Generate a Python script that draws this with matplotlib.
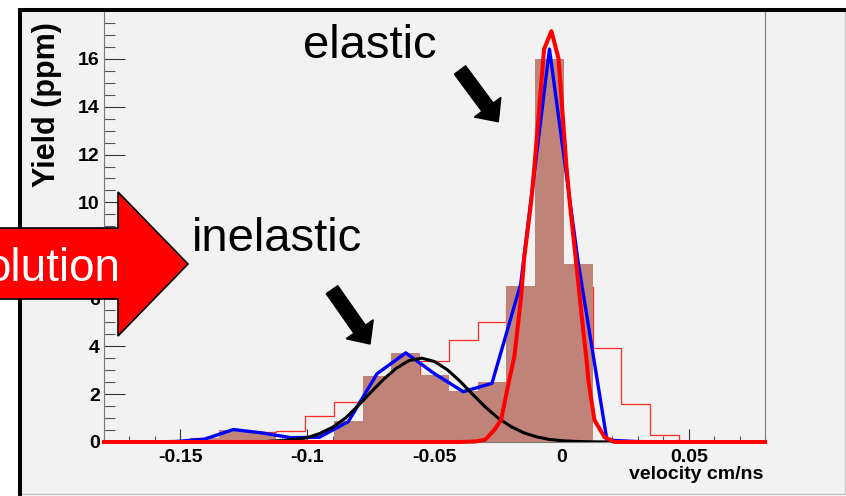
import numpy as np
import matplotlib
matplotlib.use('Agg')
import matplotlib.pyplot as plt
from matplotlib.patches import Rectangle, Polygon, FancyArrow
from matplotlib.lines import Line2D
from matplotlib.ticker import MultipleLocator
from matplotlib.transforms import IdentityTransform

plt.rcParams['font.family'] = ['Liberation Sans', 'DejaVu Sans']

# histogram binning (23 bins over the axis range)
bin_lo, bin_hi, n_bins = -0.18, 0.08, 23

# filled (brown) histogram
yield_bins = [0, 0, 0.02, 0.15, 0.5, 0.36, 0.12, 0.06, 0.89, 2.76, 3.70, 2.80,
              2.12, 2.52, 6.5, 16.0, 7.43, 0, 0, 0, 0, 0, 0]
# thin red step histogram
raw_bins = [0, 0, 0.04, 0.18, 0.38, 0.40, 0.46, 1.08, 1.69, 2.2, 2.8, 3.4,
            4.27, 5.0, 5.8, 6.2, 6.47, 3.93, 1.59, 0.29, 0, 0, 0]
# blue line, one value per bin centre
blue_line = [0, 0, 0.02, 0.12, 0.52, 0.38, 0.18, 0.2, 0.85, 2.85, 3.72, 2.85,
             2.1, 2.45, 6.6, 16.4, 7.5, 0.08, 0.02, 0, 0, 0, 0]

# black curve (inelastic)
inel_x = [-0.115, -0.11, -0.105, -0.1, -0.095, -0.09, -0.085, -0.08, -0.075,
          -0.07, -0.065, -0.06, -0.055, -0.05, -0.045, -0.04, -0.035, -0.03,
          -0.025, -0.02, -0.015, -0.01, -0.005, 0.0, 0.005, 0.01, 0.015, 0.02]
inel_y = [0.03, 0.06, 0.11, 0.18, 0.36, 0.62, 1.0, 1.52, 2.08, 2.62, 3.08, 3.40,
          3.50, 3.36, 3.02, 2.54, 1.99, 1.46, 1.00, 0.65, 0.39, 0.22, 0.11,
          0.056, 0.026, 0.011, 0.005, 0.002]

# thick red curve (elastic)
el_x = [-0.18, -0.04, -0.034, -0.030, -0.0265, -0.0238, -0.0206, -0.0186,
        -0.0159, -0.0147, -0.0119, -0.0107, -0.0069, -0.0040, -0.0012, 0.0019,
        0.0031, 0.0066, 0.0086, 0.0098, 0.0105, 0.0129, 0.0169, 0.0209, 0.08]
el_y = [0, 0, 0.02, 0.1, 0.5, 0.92, 2.6, 3.55, 6.1, 7.7, 10.1, 11.5, 16.4,
        17.15, 16.0, 11.5, 10.1, 6.6, 4.55, 3.43, 2.6, 0.92, 0.2, 0, 0]

xticks = [-0.15, -0.1, -0.05, 0, 0.05]
xtick_labels = ['-0.15', '-0.1', '-0.05', '0', '0.05']
yticks = [0, 2, 4, 6, 8, 10, 12, 14, 16]
ytick_labels = ['0', '2', '4', '6', '8', '10', '12', '14', '16']

W, H = 846, 496
def fx(p):
    return p / W
def fy(p):
    return 1 - p / H

bg = '#f2f2f2'
fig = plt.figure(figsize=(W / 100, H / 100), dpi=100)
fig.patch.set_facecolor('white')

# pad background + frame
fig.add_artist(Rectangle((fx(20), fy(494)), fx(845) - fx(20), fy(9.5) - fy(494),
                         transform=fig.transFigure, facecolor=bg,
                         edgecolor='#c4c4c4', lw=1, zorder=-1))
fig.add_artist(Line2D([fx(20), fx(20), fx(846)], [fy(497), fy(9.5), fy(9.5)],
                      transform=fig.transFigure, color='black', lw=2.9,
                      solid_joinstyle='miter', zorder=2))

ax = fig.add_axes([fx(104), fy(442), fx(765) - fx(104), fy(12) - fy(442)])
ax.set_facecolor(bg)

edges = np.linspace(bin_lo, bin_hi, n_bins + 1)
centers = 0.5 * (edges[:-1] + edges[1:])

ax.stairs(raw_bins, edges, color='#ff2a2a', lw=0.9, zorder=2)
ax.stairs(yield_bins, edges, fill=True, color='#c0837a', lw=0, zorder=3)
ax.plot(centers, blue_line, color='#0000ff', lw=2.4, zorder=4)
ax.plot(inel_x, inel_y, color='black', lw=2.2, zorder=5)
ax.plot(el_x, el_y, color='#ff0000', lw=2.9, zorder=6, clip_on=False)

ax.set_xlim(bin_lo, bin_hi)
ax.set_ylim(0, 17.95)

ax.set_xticks(xticks)
ax.set_xticklabels(xtick_labels)
ax.set_yticks(yticks)
ax.set_yticklabels(ytick_labels)
ax.xaxis.set_minor_locator(MultipleLocator(0.01))
ax.yaxis.set_minor_locator(MultipleLocator(0.5))

ax.tick_params(axis='x', which='major', direction='in', length=9.5, width=0.8,
               color='#333333', pad=5, labelsize=14)
ax.tick_params(axis='x', which='minor', direction='in', length=4.6, width=0.8,
               color='#555555')
ax.tick_params(axis='y', which='major', direction='in', length=15, width=0.8,
               color='#333333', pad=3, labelsize=14)
ax.tick_params(axis='y', which='minor', direction='in', length=7.7, width=0.8,
               color='#555555')
for lab in ax.get_xticklabels() + ax.get_yticklabels():
    lab.set_fontweight('bold')

ax.spines['top'].set_visible(False)
for s in ['left', 'right', 'bottom']:
    ax.spines[s].set_color('#7a7a7a')
    ax.spines[s].set_linewidth(0.8)

fig.text(fx(47.5), fy(22), 'Yield (ppm)', rotation=90, ha='center', va='top',
         fontsize=22, fontweight='bold')
fig.text(fx(763), fy(479), 'velocity cm/ns', ha='right', va='baseline',
         fontsize=14, fontweight='bold')

fig.text(fx(303), fy(58), 'elastic', ha='left', va='baseline', fontsize=34)
fig.text(fx(192), fy(250.7), 'inelastic', ha='left', va='baseline', fontsize=34)

# black arrows (pixel coordinates)
for tail, tip in [((460, 70), (498.3, 121.7)), ((332, 289.7), (370, 344))]:
    fig.add_artist(FancyArrow(tail[0], H - tail[1], tip[0] - tail[0], tail[1] - tip[1],
                              width=14, head_width=33, head_length=18,
                              length_includes_head=True, color='black',
                              transform=IdentityTransform(), zorder=5))

# big red block arrow
pts = [(-5, 228), (118, 228), (118, 192), (188, 264), (118, 336), (118, 299), (-5, 299)]
fig.add_artist(Polygon([(fx(a), fy(b)) for a, b in pts], closed=True,
                       transform=fig.transFigure, facecolor='#ff0000',
                       edgecolor='black', lw=1.2, zorder=6))
fig.text(fx(120), fy(281), 'olution', ha='right', va='baseline', fontsize=33,
         color='white', zorder=7)

fig.savefig('out.png', dpi=100)
